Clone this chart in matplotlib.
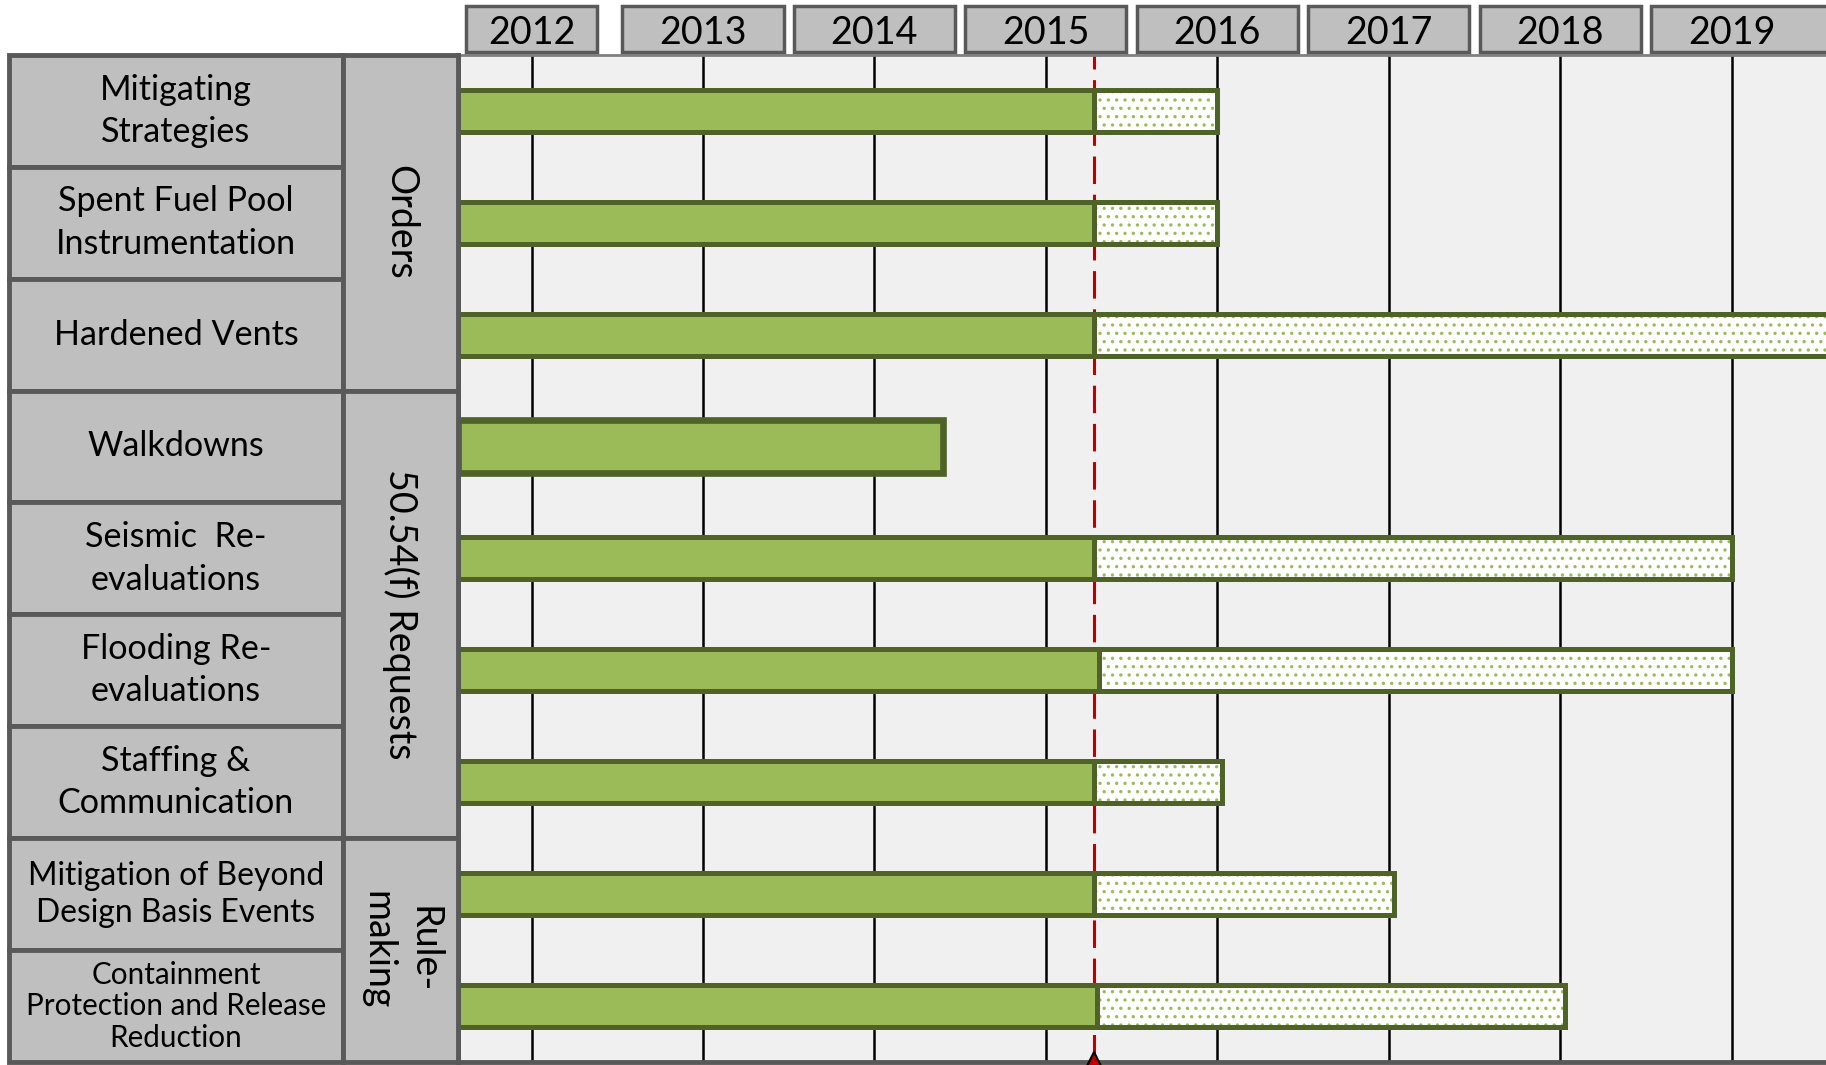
import matplotlib
matplotlib.use("Agg")
import matplotlib.pyplot as plt
from matplotlib import font_manager
from matplotlib.patches import Rectangle
from matplotlib.transforms import blended_transform_factory

# ---------------- data ----------------
tasks = ["Mitigating\nStrategies", "Spent Fuel Pool\nInstrumentation", "Hardened Vents",
         "Walkdowns", "Seismic  Re-\nevaluations", "Flooding Re-\nevaluations",
         "Staffing &\nCommunication", "Mitigation of Beyond\nDesign Basis Events",
         "Containment\nProtection and Release\nReduction"]
done_end = [2015.28, 2015.28, 2015.28, 2014.4, 2015.28, 2015.31, 2015.28, 2015.28, 2015.3]
plan_end = [2016.0, 2016.0, 2020.0, None, 2019.0, 2019.0, 2016.03, 2017.03, 2018.03]
groups = ["Orders", "50.54(f) Requests", "Rule-\nmaking"]
group_rows = [(0, 2), (3, 6), (7, 8)]
years = [2012, 2013, 2014, 2015, 2016, 2017, 2018, 2019]
today = 2015.28

# ---------------- style ----------------
names = {f.name for f in font_manager.fontManager.ttflist}
if "Liberation Sans Narrow" in names:
    FONT, k = "Liberation Sans Narrow", 1.0
else:
    FONT, k = "Lato", 0.82
plt.rcParams['font.family'] = [FONT, 'DejaVu Sans']
plt.rcParams['hatch.linewidth'] = 1.2

GREEN = '#9BBB59'
DARK = '#4F6228'
GREY = '#BFBFBF'
EDGE = '#595959'
label_size = [30, 30, 30, 30, 30, 30, 30, 28, 26]
label_spacing = [1.4, 1.4, 1.4, 1.4, 1.4, 1.4, 1.4, 1.3, 1.15]

xmin, xmax = 2011.57, 2019.55

fig = plt.figure(figsize=(18.26, 10.65), dpi=100)
ax = fig.add_axes([0.2507, 0.0028, 0.7493, 0.9458])
lab = fig.add_axes([0.0049, 0.0028, 0.2458, 0.9458])

# ---------------- gantt ----------------
ax.set_facecolor('#F0F0F0')
for y in years:
    ax.axvline(y, color='black', lw=1.8, zorder=1)
ax.axvline(today, color='#C00000', lw=2.2, dashes=(9, 3.5), zorder=2)

for i in range(len(tasks)):
    if plan_end[i] is None:
        h, lw = 0.48, 4.8
    else:
        h, lw = 0.375, 3.6
    ax.barh(i, done_end[i] - xmin, left=xmin, height=h, color=GREEN,
            edgecolor=DARK, linewidth=lw, zorder=3)
    if plan_end[i] is not None:
        w = plan_end[i] - done_end[i]
        ax.barh(i, w, left=done_end[i], height=h, color='white', hatch='..',
                edgecolor=GREEN, linewidth=0, zorder=3)
        ax.barh(i, w, left=done_end[i], height=h, fill=False,
                edgecolor=DARK, linewidth=lw, zorder=4)

ax.plot([today], [8.5], marker='^', ms=14, mfc='#C00000', mec='black', mew=1.5,
        clip_on=False, zorder=6)

ax.set_xlim(xmin, xmax)
ax.set_ylim(8.5, -0.5)
ax.set_xticks([])
ax.set_yticks([])
ax.spines['right'].set_visible(False)
ax.spines['left'].set_color(EDGE)
ax.spines['left'].set_linewidth(3.5)
ax.spines['bottom'].set_color(EDGE)
ax.spines['bottom'].set_linewidth(3.5)
ax.spines['top'].set_color('#7F7F7F')
ax.spines['top'].set_linewidth(2)

# year header boxes
trans = blended_transform_factory(ax.transData, fig.transFigure)
for y in years:
    left = max(y - 0.47, xmin + 0.05)
    right = y + (y - left)
    if y == years[-1]:
        right = xmax + 0.2
    ax.add_patch(Rectangle((left, 0.9508), right - left, 0.0438, transform=trans,
                           facecolor=GREY, edgecolor=EDGE, linewidth=2.5,
                           clip_on=False, zorder=5))
    ax.text(y, 0.969, str(y), transform=trans, ha='center', va='center',
            fontsize=33 * k, zorder=6, clip_on=False)

# ---------------- left table ----------------
split = 0.744
lab.set_xlim(0, 1)
lab.set_ylim(8.5, -0.5)
lab.axis('off')
for i, t in enumerate(tasks):
    lab.add_patch(Rectangle((0, i - 0.5), split, 1, facecolor=GREY, edgecolor=EDGE,
                            linewidth=3.5, clip_on=False))
    lab.text(split / 2, i, t, ha='center', va='center', fontsize=label_size[i] * k,
             linespacing=label_spacing[i])
for g, (r0, r1) in zip(groups, group_rows):
    lab.add_patch(Rectangle((split, r0 - 0.5), 1 - split, r1 - r0 + 1, facecolor=GREY,
                            edgecolor=EDGE, linewidth=3.5, clip_on=False))
    lab.text((split + 1) / 2, (r0 + r1) / 2, g, ha='center', va='center',
             rotation=270, fontsize=33 * k, linespacing=1.35)

fig.savefig('out.png', dpi=100)
